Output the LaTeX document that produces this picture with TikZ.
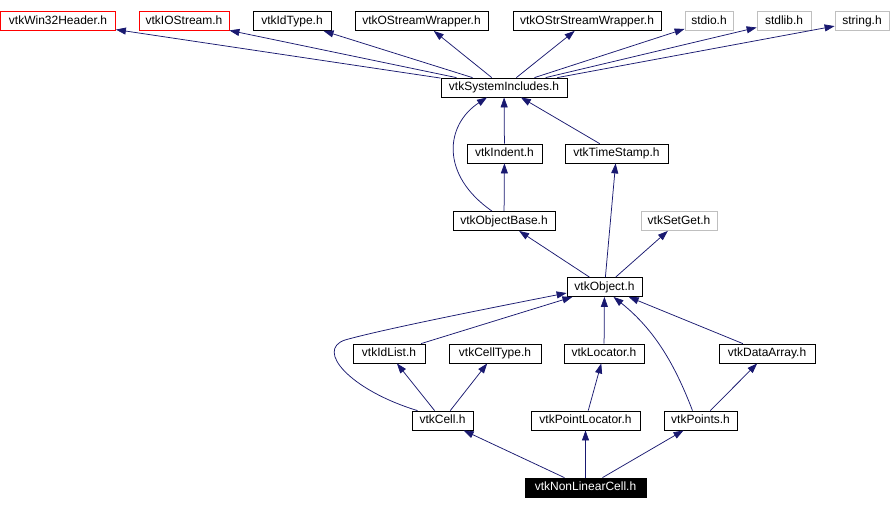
\documentclass[tikz,border=0pt]{standalone}
\usepackage{fontspec}
\setmainfont{Liberation Sans}
\usepackage{xcolor}
\usetikzlibrary{arrows.meta}
\definecolor{depline}{HTML}{191970}
\definecolor{missing}{HTML}{FF0000}
\definecolor{extern}{HTML}{BFBFBF}
\tikzset{
  >={Triangle[length=10pt,width=7pt]},
  dep/.style={->,draw=depline,line width=0.75pt},
  hdr/.style={draw=black,fill=white,line width=0.8pt,inner sep=0pt,minimum height=19pt,
    text height=9pt,text depth=2.5pt,font=\fontsize{12}{14}\selectfont},
  redhdr/.style={hdr,draw=missing},
  exthdr/.style={hdr,draw=extern},
  focus/.style={hdr,fill=black,text=white},
}
\begin{document}
\begin{tikzpicture}[x=1pt,y=-1pt]
\useasboundingbox (0,0) rectangle (890,509);

% System headers --------------------------------------------------------------
\node[redhdr,minimum width=115pt] (win32) at (58,21) {vtkWin32Header.h};
\node[redhdr,minimum width=90pt] (iostream) at (184,21) {vtkIOStream.h};
\node[hdr,minimum width=78pt] (idtype) at (292,21) {vtkIdType.h};
\node[hdr,minimum width=133pt] (ostream) at (421.5,21) {vtkOStreamWrapper.h};
\node[hdr,minimum width=148pt] (ostrstream) at (587,21) {vtkOStrStreamWrapper.h};
\node[exthdr,minimum width=48pt] (stdio) at (709,21) {stdio.h};
\node[exthdr,minimum width=54pt] (stdlib) at (784,21) {stdlib.h};
\node[exthdr,minimum width=54pt] (stringh) at (862,21) {string.h};

\node[hdr,minimum width=126pt] (sysincl) at (504,87.5) {vtkSystemIncludes.h};
\draw[dep] (sysincl) -- (win32);
\draw[dep] (sysincl) -- (iostream);
\draw[dep] (sysincl) -- (idtype);
\draw[dep] (sysincl) -- (ostream);
\draw[dep] (sysincl) -- (ostrstream);
\draw[dep] (sysincl) -- (stdio);
\draw[dep] (sysincl) -- (stdlib);
\draw[dep] (sysincl) -- (stringh);

% Object base -----------------------------------------------------------------
\node[hdr,minimum width=75pt] (indent) at (504.5,153.5) {vtkIndent.h};
\node[hdr,minimum width=103pt] (tstamp) at (616.5,153.5) {vtkTimeStamp.h};
\node[hdr,minimum width=102pt] (obase) at (504,221) {vtkObjectBase.h};
\node[exthdr,minimum width=76pt] (setget) at (679,221) {vtkSetGet.h};
\node[hdr,minimum width=75pt] (object) at (604.5,287) {vtkObject.h};
\draw[dep] (indent) -- (sysincl);
\draw[dep] (tstamp) -- (sysincl);
\draw[dep] ([xshift=-12pt]obase.north) .. controls (440,175) and (445,125) .. ([xshift=-17pt]sysincl.south);
\draw[dep] (obase) -- (indent);
\draw[dep] (object) -- (obase);
\draw[dep] (object) -- (tstamp);
\draw[dep] (object) -- (setget);

% Cell level ------------------------------------------------------------------
\node[hdr,minimum width=72pt] (idlist) at (389,353.5) {vtkIdList.h};
\node[hdr,minimum width=92pt] (celltype) at (495,353.5) {vtkCellType.h};
\node[hdr,minimum width=80pt] (locator) at (604,353.5) {vtkLocator.h};
\node[hdr,minimum width=96pt] (darray) at (767,353.5) {vtkDataArray.h};
\node[hdr,minimum width=61pt] (cell) at (442.5,420.5) {vtkCell.h};
\node[hdr,minimum width=109pt] (ploc) at (585.5,420.5) {vtkPointLocator.h};
\node[hdr,minimum width=73pt] (points) at (700.5,420.5) {vtkPoints.h};
\draw[dep] (idlist) -- (object);
\draw[dep] (locator) -- (object);
\draw[dep] (darray) -- (object);
\draw[dep] (cell) -- (idlist);
\draw[dep] (cell) -- (celltype);
\draw[dep] ([xshift=-25pt]cell.north) .. controls (350,390) and (315,350) .. (345,340)
  .. controls (380,330) and (480,310) .. ([yshift=-6pt]object.west);
\draw[dep] (ploc) -- (locator);
\draw[dep] ([xshift=-8pt]points.north) .. controls (675,365) and (655,330) .. ([xshift=9pt]object.south);
\draw[dep] (points) -- (darray);

% Documented file -------------------------------------------------------------
\node[focus,minimum width=121pt] (nlcell) at (585.5,487.5) {vtkNonLinearCell.h};
\draw[dep] (nlcell) -- (cell);
\draw[dep] (nlcell) -- (ploc);
\draw[dep] (nlcell) -- (points);

\end{tikzpicture}
\end{document}
